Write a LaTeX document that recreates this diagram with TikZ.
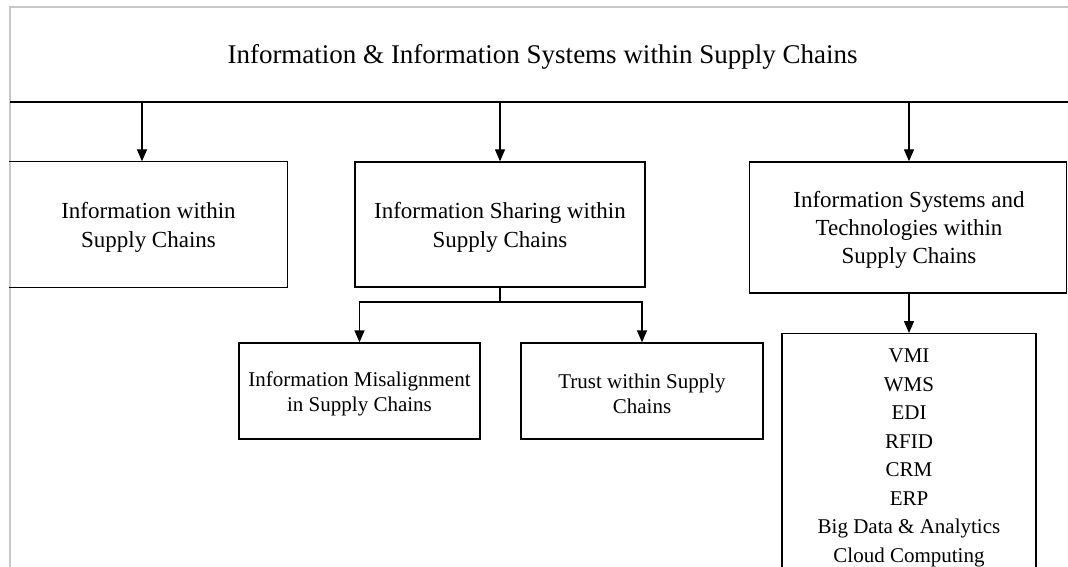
\documentclass[tikz,border=0pt]{standalone}
\usepackage{fontspec}
\setmainfont{Liberation Serif}
\usetikzlibrary{arrows.meta,calc}
\begin{document}
\begin{tikzpicture}[x=1pt,y=-1pt,
  line/.style={line width=1.3pt,draw=black},
  box/.style={line,rectangle,inner sep=0pt},
  label text/.style={align=center,inner sep=0pt},
  topfont/.style={font=\fontsize{23}{29}\selectfont},
  sysfont/.style={font=\fontsize{23}{28}\selectfont},
  subfont/.style={font=\fontsize{21}{25}\selectfont},
  listfont/.style={font=\fontsize{21}{28.5}\selectfont},
  arr/.style={line,-{Triangle[width=10pt,length=12pt]}},
  frame/.style={draw=black!22,line width=1.5pt}]
\useasboundingbox (0,0) rectangle (1068,567);
\clip (0,0) rectangle (1068,567);
\fill[white] (0,0) rectangle (1068,567);

% outer page frame
\draw[frame] (1070,7) -- (10,7) -- (10,570);

% heading band
\node[font=\fontsize{27}{32}\selectfont,anchor=base] (title) at (542.5,63.5)
  {Information \& Information Systems within Supply Chains};
\coordinate (bandL) at (10,102);
\coordinate (bandR) at (1070,102);
\draw[line] (bandL) -- (bandR);

% first level boxes
\node[box,draw=none,minimum width=277pt,minimum height=125pt] (info) at (148.5,224.5) {};
\draw[line] (info.north west) -- (info.north east) -- (info.south east) -- (info.south west);
\node[label text,topfont] (infotext) at ($(info.center)+(0,3)$)
  {Information within\\Supply Chains};

\node[box,minimum width=290pt,minimum height=125pt] (share) at (500,224.5) {};
\node[label text,topfont] (sharetext) at ($(share.center)+(0,3)$)
  {Information Sharing within\\Supply Chains};

\node[box,minimum width=317pt,minimum height=131pt] (sys) at (908,227.5) {};
\node[label text,sysfont] (systext) at ($(sys.center)+(1,2)$)
  {Information Systems and\\Technologies within\\Supply Chains};

% second level boxes
\node[box,minimum width=241pt,minimum height=96pt] (mis) at (359.5,391) {};
\node[label text,subfont] (mistext) at ($(mis.center)+(0,3)$)
  {Information Misalignment\\in Supply Chains};
\node[box,minimum width=242pt,minimum height=96pt] (trust) at (642,391) {};
\node[label text,subfont] (trusttext) at ($(trust.center)+(0,3)$)
  {Trust within Supply\\Chains};

\node[box,anchor=north,minimum width=254pt,minimum height=260pt] (list) at (909,333) {};
\node[label text,listfont,anchor=north] (listtext) at (909,349)
  {VMI\\WMS\\EDI\\RFID\\CRM\\ERP\\Big Data \& Analytics\\Cloud Computing};

% connectors from the heading band
\coordinate (a1) at (142,102);
\draw[arr] (a1) -- (a1 |- info.north);
\draw[arr] (share.north |- bandL) -- (share.north);
\coordinate (a3) at (909,102);
\draw[arr] (a3) -- (a3 |- sys.north);

% sharing splits into two
\coordinate (split) at (500,302);
\draw[line] (share.south) -- (split);
\draw[arr] (split) -| (mis.north);
\draw[arr] (split) -| (trust.north);

% systems to the list
\draw[arr] (sys.south -| list.north) -- (list.north);
\end{tikzpicture}
\end{document}
